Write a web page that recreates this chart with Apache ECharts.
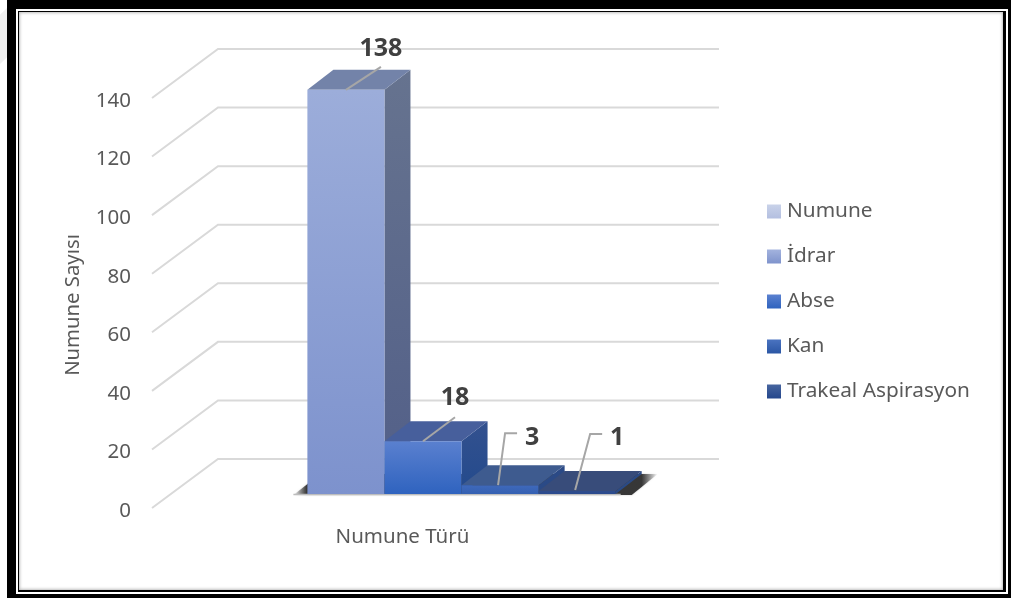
<!DOCTYPE html>
<html lang="tr">
<head>
<meta charset="utf-8">
<title>Numune Türü</title>
<style>
  html, body { margin: 0; padding: 0; background: #fff; }
  body { width: 1011px; height: 598px; overflow: hidden; position: relative; }
  .box { position: absolute; box-sizing: border-box; }
  #chart { position: absolute; left: 0; top: 0; width: 1011px; height: 598px; }
</style>
<script src="https://cdn.jsdelivr.net/npm/echarts@6/dist/echarts.min.js"></script>
</head>
<body>
<!-- picture frame: heavy black band, white keyline, thin dark rule, soft grey inner edge -->
<div class="box" style="left:0;top:8px;width:7px;height:56px;background:#f0f0f0;clip-path:polygon(0 12%,100% 0,100% 88%,0 100%)"></div>
<div class="box" style="left:7px;top:0;width:1004px;height:598px;background:#000"></div>
<div class="box" style="left:16px;top:9px;width:992px;height:585px;background:#fff"></div>
<div class="box" style="left:18px;top:11px;width:988px;height:581px;background:#000"></div>
<div class="box" style="left:19px;top:12px;width:984px;height:578px;background:#fff;box-shadow:inset 0 0 3px 1px #bdbdbd"></div>
<div id="chart"></div>
<script>
// Sample counts per specimen type
const category = ['Numune Türü'];
const yTicks = [0, 20, 40, 60, 80, 100, 120, 140];
const seriesNames = ['Numune', 'İdrar', 'Abse', 'Kan', 'Trakeal Aspirasyon'];
const seriesValues = [null, 138, 18, 3, 1];

const FONT = '"Noto Sans", "Open Sans", sans-serif';
const TEXT = '#595959';

function grad(top, bottom) {
  return new echarts.graphic.LinearGradient(0, 0, 0, 1, [
    { offset: 0, color: top }, { offset: 1, color: bottom }
  ]);
}

// Face colours of the five series
const faces = [
  { legend: grad('#C9D2E9', '#B3BFE0') },
  { legend: grad('#A3B3DE', '#7F93CC'), front: grad('#9CADDA', '#7D92CD'), top: '#7383A9', side: grad('#66738F', '#525F88') },
  { legend: grad('#5B81D0', '#2F63BE'), front: grad('#5A80CF', '#2F63BF'), top: '#475F9C', side: grad('#33518F', '#234A8C') },
  { legend: grad('#4A73C0', '#2B56A4'), front: grad('#3F69BB', '#3460B2'), top: '#3E5B8F', side: grad('#2C4A86', '#2A4A86') },
  { legend: grad('#47659F', '#24478C'), front: grad('#2F4C8C', '#2A4A8E'), top: '#384C7A', side: grad('#2A4A86', '#2A4A86') }
];

// Callout geometry relative to the middle of a bar's top front edge
const callouts = {
  'İdrar': { path: [[0, 0], [35, -23]], label: [35, -41] },
  'Abse': { path: [[0, 0], [32, -24]], label: [32, -43] },
  'Kan': { path: [[-2, 0], [5, -52], [17, -52]], label: [32, -47] },
  'Trakeal Aspirasyon': { path: [[-2, -1], [13, -57], [25, -57]], label: [40, -53] }
};

// Projection used for the 3D look
const WALL_DX = 66, WALL_DY = 49;     // front floor edge to back wall
const BAR_DX = 26, BAR_DY = 20;       // depth of each bar
const BAR_SHIFT_X = 20.5, BAR_SHIFT_Y = 14; // bars stand part-way into the floor
const SLOTS_PER_BAND = 6.5;

function poly(points, fill, extra) {
  return { type: 'polygon', shape: { points: points }, style: Object.assign({ fill: fill }, extra || {}) };
}

function renderWall(params, api) {
  const p = api.coord([0, api.value(1)]);
  const left = api.coord([0, 0])[0] - api.size([1, 0])[0] / 2;
  const width = api.size([1, 0])[0];
  return {
    type: 'polyline',
    shape: { points: [[left, p[1]], [left + WALL_DX, p[1] - WALL_DY], [left + WALL_DX + width, p[1] - WALL_DY]] },
    style: { stroke: '#D9D9D9', lineWidth: 2, fill: null }
  };
}

function slotLeft(api, index) {
  const centre = api.coord([0, 0])[0];
  const slot = api.size([1, 0])[0] / SLOTS_PER_BAND;
  return centre + BAR_SHIFT_X - slot * seriesNames.length / 2 + slot * index;
}

// Soft dark pool under the row of bars, fading out at both ends
function renderFloorShadow(params, api) {
  const x0 = slotLeft(api, 1);
  const x1 = slotLeft(api, seriesNames.length);
  const y = api.coord([0, 0])[1] - BAR_SHIFT_Y;
  const fadeLeft = x0 - 14, fadeRight = x1 + BAR_DX + 16;
  const span = fadeRight - fadeLeft;
  const fade = new echarts.graphic.LinearGradient(fadeLeft, 0, fadeRight, 0, [
    { offset: 0, color: 'rgba(60,60,60,0)' },
    { offset: 14 / span, color: 'rgba(40,40,40,0.95)' },
    { offset: (x1 + BAR_DX - fadeLeft) / span, color: 'rgba(40,40,40,0.9)' },
    { offset: 1, color: 'rgba(60,60,60,0)' }
  ], true);
  return {
    type: 'group',
    children: [
      poly([[x0 - 14, y + 1], [x0 + 13, y - BAR_DY], [x1 + BAR_DX + 16, y - BAR_DY], [x1 + 16, y + 1]], fade,
        { shadowBlur: 2, shadowColor: 'rgba(60,60,60,0.35)' }),
      { type: 'line', shape: { x1: x0 - 14, y1: y + 0.5, x2: x1 + 5, y2: y + 0.5 }, style: { stroke: '#bdbdbd', lineWidth: 1.5 } }
    ]
  };
}

function makeBarRenderer(index) {
  return function (params, api) {
    const name = seriesNames[index];
    const f = faces[index];
    const slot = api.size([1, 0])[0] / SLOTS_PER_BAND;
    const x0 = slotLeft(api, index);
    const x1 = x0 + slot;
    const yBase = api.coord([0, 0])[1] - BAR_SHIFT_Y;
    const yTop = api.coord([0, api.value(1)])[1] - BAR_SHIFT_Y;
    const c = callouts[name];
    const mid = x0 + slot / 2;
    return {
      type: 'group',
      children: [
        poly([[x1, yTop], [x1 + BAR_DX, yTop - BAR_DY], [x1 + BAR_DX, yBase - BAR_DY], [x1, yBase]], f.side),
        poly([[x0, yTop], [x0 + BAR_DX, yTop - BAR_DY], [x1 + BAR_DX, yTop - BAR_DY], [x1, yTop]], f.top),
        { type: 'rect', shape: { x: x0, y: yTop, width: slot, height: yBase - yTop }, style: { fill: f.front } },
        {
          type: 'polyline',
          shape: { points: c.path.map(function (q) { return [mid + q[0], yTop + q[1]]; }) },
          style: { stroke: '#A6A6A6', lineWidth: 2, fill: null }
        },
        {
          type: 'text',
          x: mid + c.label[0],
          y: yTop + c.label[1],
          style: {
            text: String(api.value(1)),
            fill: '#404040',
            font: 'bold 25px ' + FONT,
            align: 'center',
            verticalAlign: 'middle'
          }
        }
      ]
    };
  };
}

const barSeries = seriesNames.map(function (name, i) {
  return {
    type: 'custom',
    name: name,
    coordinateSystem: 'cartesian2d',
    clip: false,
    silent: true,
    renderItem: makeBarRenderer(i),
    data: seriesValues[i] === null ? [] : [[0, seriesValues[i]]],
    itemStyle: { color: faces[i].legend }
  };
});

const chart = echarts.init(document.getElementById('chart'), null, { renderer: 'canvas' });
chart.setOption({
  animation: false,
  backgroundColor: 'transparent',
  textStyle: { fontFamily: FONT },
  grid: { left: 152, right: 358, top: 98, bottom: 90 },
  xAxis: {
    type: 'category',
    data: category,
    axisLine: { show: false },
    axisTick: { show: false },
    axisLabel: { color: TEXT, fontFamily: FONT, fontSize: 20.5, margin: 19 }
  },
  yAxis: {
    type: 'value',
    min: 0,
    max: 140,
    interval: 20,
    name: 'Numune Sayısı',
    nameLocation: 'middle',
    nameRotate: 90,
    nameGap: 69,
    nameTextStyle: { color: TEXT, fontFamily: FONT, fontSize: 20.3, padding: [0, 4, 0, 0] },
    axisLine: { show: false },
    axisTick: { show: false },
    splitLine: { show: false },
    axisLabel: { color: TEXT, fontFamily: FONT, fontSize: 20.5, margin: 21, verticalAlign: 'top', lineHeight: 6 }
  },
  legend: {
    orient: 'vertical',
    left: 767,
    top: 201,
    padding: 0,
    itemWidth: 14,
    itemHeight: 14,
    itemGap: 24,
    icon: 'rect',
    selectedMode: false,
    textStyle: { color: TEXT, fontFamily: FONT, fontSize: 20.8, lineHeight: 20, padding: [0, 0, 0, 1] },
    data: seriesNames.map(function (name, i) {
      return { name: name, icon: 'rect', itemStyle: { color: faces[i].legend } };
    })
  },
  series: [
    {
      type: 'custom',
      coordinateSystem: 'cartesian2d',
      clip: false,
      silent: true,
      renderItem: renderWall,
      data: yTicks.map(function (t) { return [0, t]; })
    },
    {
      type: 'custom',
      coordinateSystem: 'cartesian2d',
      clip: false,
      silent: true,
      renderItem: renderFloorShadow,
      data: [[0, 0]]
    }
  ].concat(barSeries)
});
</script>
</body>
</html>
